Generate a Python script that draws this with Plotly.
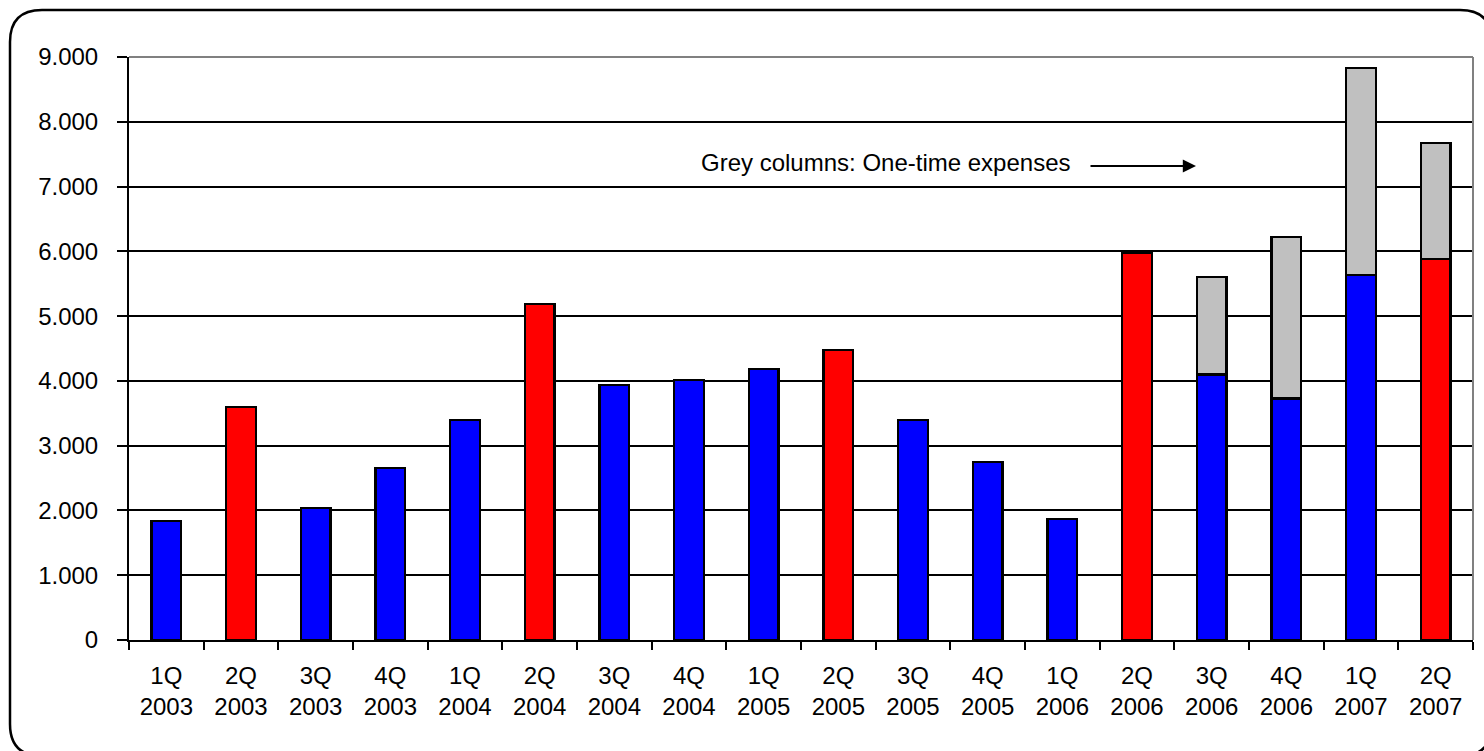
import plotly.graph_objects as go

# Quarter labels
quarters = ["1Q", "2Q", "3Q", "4Q", "1Q", "2Q", "3Q", "4Q", "1Q", "2Q",
            "3Q", "4Q", "1Q", "2Q", "3Q", "4Q", "1Q", "2Q"]
years = ["2003", "2003", "2003", "2003", "2004", "2004", "2004", "2004",
         "2005", "2005", "2005", "2005", "2006", "2006", "2006", "2006",
         "2007", "2007"]

# Underlying quarterly values
base_values = [1840, 3600, 2040, 2650, 3400, 5190, 3940, 4010, 4180, 4480,
               3400, 2750, 1870, 5970, 4100, 3730, 5630, 5880]
# One-time expenses stacked on top (grey)
one_time = [None, None, None, None, None, None, None, None, None, None,
            None, None, None, None, 1500, 2490, 3200, 1790]

y_ticks = [0, 1000, 2000, 3000, 4000, 5000, 6000, 7000, 8000, 9000]

categories = [f"{q}<br>{y}" for q, y in zip(quarters, years)]
base_colors = ["#FF0000" if q == "2Q" else "#0000FF" for q in quarters]

FONT = "Arial, 'Liberation Sans', sans-serif"

# Plot-area geometry in pixels
W, H = 1484, 751
L, R, T, B = 129, 11, 57, 111
PW, PH = W - L - R, H - T - B


def px(x, y):
    """Pixel position -> paper coordinates."""
    return (x - L) / PW, (H - B - y) / PH


fig = go.Figure()
fig.add_trace(go.Bar(
    x=categories, y=base_values,
    marker=dict(color=base_colors, line=dict(color="black", width=2.3)),
    showlegend=False, hoverinfo="x+y",
))
fig.add_trace(go.Bar(
    x=categories, y=one_time,
    marker=dict(color="#C0C0C0", line=dict(color="black", width=2.3)),
    showlegend=False, hoverinfo="x+y",
))

# Rounded frame around the whole chart
x0, y0, x1, y1, r = 10, 10, 1492, 756, 32


def P(x, y):
    a, b = px(x, y)
    return f"{a:.5f},{b:.5f}"


path = (f"M{P(x0 + r, y0)} L{P(x1 - r, y0)} Q{P(x1, y0)} {P(x1, y0 + r)} "
        f"L{P(x1, y1 - r)} Q{P(x1, y1)} {P(x1 - r, y1)} "
        f"L{P(x0 + r, y1)} Q{P(x0, y1)} {P(x0, y1 - r)} "
        f"L{P(x0, y0 + r)} Q{P(x0, y0)} {P(x0 + r, y0)} Z")

fig.update_layout(
    width=W, height=H,
    margin=dict(l=L, r=R, t=T, b=B),
    paper_bgcolor="white", plot_bgcolor="white",
    barmode="stack", bargap=0.6,
    separators=",.",
    font=dict(family=FONT, size=24, color="black"),
    xaxis=dict(
        type="category", tickson="boundaries",
        showline=True, linecolor="black", linewidth=2,
        ticks="outside", ticklen=8, tickwidth=2, tickcolor="black",
        showgrid=False, ticklabelstandoff=13,
        tickfont=dict(family=FONT, size=24, color="black"),
    ),
    yaxis=dict(
        range=[0, 9000], tickvals=y_ticks, tickformat=",d",
        showline=True, linecolor="black", linewidth=2,
        ticks="outside", ticklen=10, tickwidth=2, tickcolor="black",
        showgrid=True, gridcolor="black", gridwidth=2,
        zeroline=False, ticklabelstandoff=14,
        tickfont=dict(family=FONT, size=24, color="black"),
    ),
    shapes=[
        dict(type="path", xref="paper", yref="paper", path=path,
             line=dict(color="black", width=2.5), layer="above"),
        # grey top and right edges of the plot area
        dict(type="line", xref="paper", yref="paper", x0=0, x1=1, y0=1, y1=1,
             line=dict(color="#808080", width=2), layer="above"),
        dict(type="line", xref="paper", yref="paper", x0=1, x1=1, y0=0, y1=1,
             line=dict(color="#808080", width=2), layer="above"),
    ],
    annotations=[
        dict(text="Grey columns: One-time expenses", xref="paper", yref="paper",
             x=px(699, 0)[0], y=px(0, 163)[1], xanchor="left", yanchor="middle",
             showarrow=False, font=dict(family=FONT, size=24, color="black")),
        dict(text="", xref="paper", yref="paper",
             x=px(1196, 0)[0], y=px(0, 166)[1], ax=-107, ay=0,
             showarrow=True, arrowhead=2, arrowsize=1.2, arrowwidth=2.2,
             arrowcolor="black"),
    ],
)

fig.write_html("out.html")
